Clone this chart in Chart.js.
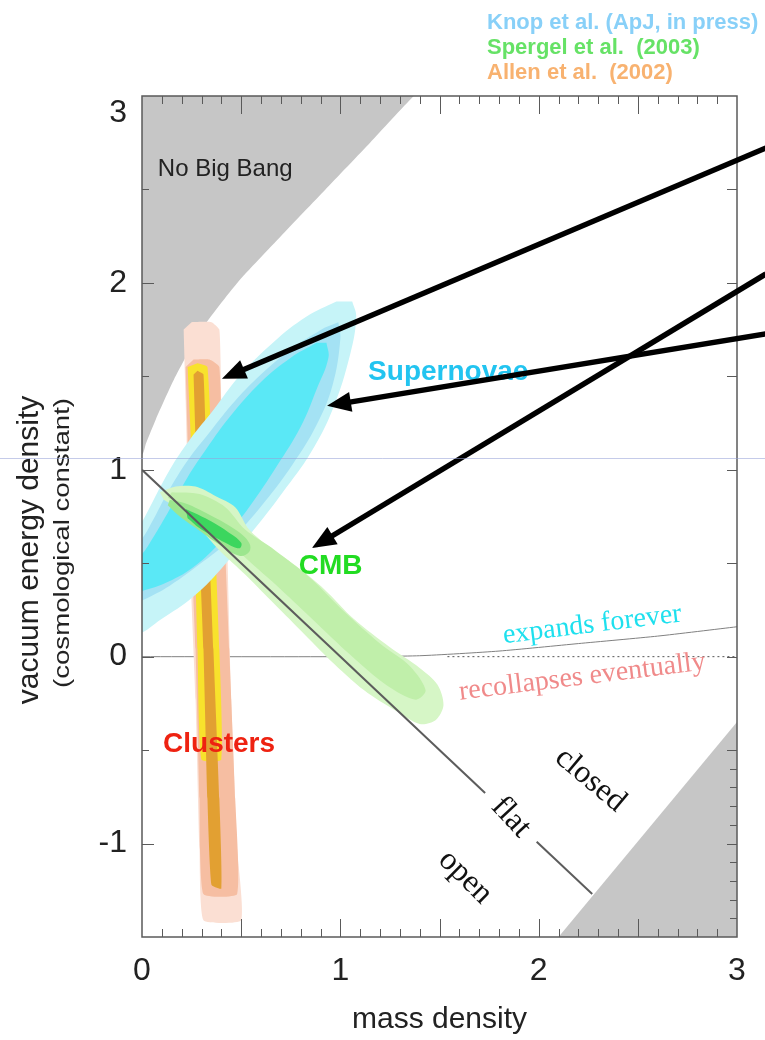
<!DOCTYPE html>
<html>
<head>
<meta charset="utf-8">
<script src="https://cdn.jsdelivr.net/npm/chart.js@4.4.1/dist/chart.umd.min.js"></script>
<style>
  html, body { margin: 0; padding: 0; background: #ffffff; }
  canvas { display: block; }
</style>
</head>
<body>
<canvas id="cosmo" width="765" height="1040"></canvas>
<script>
// ---- axes ----
const xRange = [0, 3];
const yRange = [-1.5, 3];
const xTickValues = [0, 1, 2, 3];
const yTickValues = [-1, 0, 1, 2, 3];

// ---- excluded regions (mass density, vacuum energy density) ----
const noBigBang = [[-0.2, 3.2], [1.57, 3.2], [1.37, 3], [1.15, 2.75], [0.925, 2.5], [0.70, 2.25], [0.48, 2.0],
  [0.30, 1.75], [0.16, 1.48], [0.07, 1.27], [0.02, 1.14], [0, 1.08], [-0.2, 1.0]];
const lowerRight = [[2.1, -1.5], [3.2, -1.6], [3.2, -0.2], [3, -0.35]];

// ---- geometry lines ----
const flatLower = [[0, 1], [1.73, -0.73]];
const flatUpper = [[1.99, -0.99], [2.27, -1.27]];
const expansionEdge = [[0, 0], [1, 0], [1.4, 0.005], [1.8, 0.03], [2.2, 0.07], [2.6, 0.11], [3, 0.16]];
const zeroReference = [[1.54, 0], [3, 0]];

// ---- Allen et al. (2002): X-ray clusters ----
const clustersOuter = [[0.21, 1.75], [0.22, 1.37], [0.24, 0.57], [0.27, -0.23], [0.29, -1.03], [0.31, -1.41],
  [0.5, -1.41], [0.48, -1.03], [0.45, -0.23], [0.43, 0.57], [0.40, 1.37], [0.39, 1.75], [0.35, 1.79], [0.25, 1.79]];
const clustersMid = [[0.22, 1.55], [0.24, 0.84], [0.27, 0.04], [0.29, -0.76], [0.31, -1.27],
  [0.48, -1.27], [0.47, -0.76], [0.44, 0.04], [0.41, 0.84], [0.39, 1.55], [0.34, 1.59], [0.26, 1.59]];
const clustersYellow = [[0.23, 1.55], [0.26, 0.84], [0.28, 0.04], [0.30, -0.55],
  [0.40, -0.55], [0.39, 0.04], [0.36, 0.84], [0.33, 1.55], [0.28, 1.57]];
const clustersCore = [[0.26, 1.51], [0.28, 0.84], [0.31, 0.04], [0.33, -0.76], [0.35, -1.22],
  [0.40, -1.24], [0.39, -0.76], [0.36, 0.04], [0.33, 0.84], [0.31, 1.51], [0.28, 1.53]];

// ---- Knop et al.: supernovae ----
const snOuter = [[1.06, 1.90], [1.08, 1.82], [1.05, 1.62], [0.96, 1.32], [0.85, 1.09], [0.71, 0.88], [0.58, 0.70],
  [0.44, 0.52], [0.28, 0.34], [0.11, 0.21], [-0.05, 0.12], [-0.15, 0.25], [-0.12, 0.5], [0, 0.72], [0.14, 1.0],
  [0.24, 1.16], [0.36, 1.32], [0.49, 1.50], [0.66, 1.68], [0.83, 1.82], [0.98, 1.90]];
const snMid = [[0.99, 1.79], [1.00, 1.70], [0.96, 1.45], [0.88, 1.24], [0.76, 1.03], [0.62, 0.83], [0.47, 0.65],
  [0.31, 0.51], [0.14, 0.38], [0, 0.30], [-0.12, 0.24], [-0.14, 0.45], [0, 0.63], [0.05, 0.72], [0.13, 0.88],
  [0.23, 1.05], [0.34, 1.20], [0.47, 1.37], [0.62, 1.53], [0.77, 1.66], [0.92, 1.76]];
const snInner = [[0.93, 1.68], [0.94, 1.60], [0.88, 1.43], [0.80, 1.23], [0.68, 1.02], [0.54, 0.80], [0.41, 0.63],
  [0.26, 0.48], [0.11, 0.39], [0, 0.35], [-0.1, 0.3], [-0.1, 0.45], [0, 0.55], [0.04, 0.61], [0.13, 0.77],
  [0.23, 0.96], [0.33, 1.12], [0.44, 1.28], [0.60, 1.47], [0.75, 1.60], [0.88, 1.68]];

// ---- Spergel et al. (2003): CMB ----
const cmbOuter = [[0.09, 0.88], [0.17, 0.91], [0.27, 0.91], [0.37, 0.86], [0.47, 0.80], [0.54, 0.68], [0.65, 0.58],
  [0.77, 0.49], [0.92, 0.36], [1.07, 0.20], [1.25, 0.05], [1.40, -0.06], [1.49, -0.15], [1.52, -0.26], [1.48, -0.34],
  [1.40, -0.36], [1.28, -0.29], [1.12, -0.18], [0.95, -0.02], [0.80, 0.14], [0.65, 0.30], [0.52, 0.44], [0.39, 0.57],
  [0.27, 0.71], [0.17, 0.80], [0.11, 0.84]];
const cmbMid = [[0.15, 0.88], [0.29, 0.87], [0.42, 0.80], [0.52, 0.68], [0.67, 0.57], [0.85, 0.42], [1.02, 0.24],
  [1.20, 0.07], [1.35, -0.05], [1.43, -0.18], [1.38, -0.23], [1.23, -0.15], [1.05, 0.01], [0.87, 0.19], [0.70, 0.36],
  [0.52, 0.53], [0.37, 0.68], [0.22, 0.80], [0.13, 0.85]];
const cmbInner = [[0.14, 0.84], [0.22, 0.82], [0.34, 0.76], [0.47, 0.68], [0.54, 0.61], [0.54, 0.56], [0.49, 0.54],
  [0.39, 0.60], [0.27, 0.69], [0.18, 0.76], [0.13, 0.81]];
const cmbCore = [[0.22, 0.79], [0.32, 0.74], [0.43, 0.67], [0.50, 0.61], [0.49, 0.58], [0.42, 0.61], [0.30, 0.68], [0.23, 0.74]];

// ---- pointer arrows: [from x, from y, to x, to y] ----
const arrowSegments = [
  [3.146, 2.722, 0.403, 1.487],
  [3.146, 1.727, 0.933, 1.342],
  [3.146, 2.048, 0.857, 0.581]
];

const SANS = '"Liberation Sans", Arial, Helvetica, sans-serif';
const SERIF = '"Liberation Serif", "Times New Roman", Times, serif';

const toPoints = list => list.map(([x, y]) => ({ x, y }));

// layers listed bottom to top
const layers = [
  { pts: noBigBang, fill: '#c6c6c6', tension: 0.2 },
  { pts: lowerRight, fill: '#c6c6c6', tension: 0 },
  { pts: expansionEdge, stroke: '#808080', width: 1, tension: 0.2 },
  { pts: zeroReference, stroke: '#555555', width: 1, dash: [2, 3] },
  { pts: clustersOuter, fill: '#fbdfd3', tension: 0.15 },
  { pts: clustersMid, fill: '#f6bea2', tension: 0.15 },
  { pts: clustersYellow, fill: '#f8e22c', tension: 0.15 },
  { pts: clustersCore, fill: '#e2a032', tension: 0.15 },
  { pts: snOuter, fill: '#c6f4f8', tension: 0.4 },
  { pts: snMid, fill: '#a4e2f4', tension: 0.4 },
  { pts: snInner, fill: '#5ae8f6', tension: 0.4 },
  { pts: cmbOuter, fill: '#d6f6c6', tension: 0.3 },
  { pts: cmbMid, fill: '#c0efaa', tension: 0.3 },
  { pts: cmbInner, fill: '#9ce68e', tension: 0.4 },
  { pts: cmbCore, fill: '#3cd65e', tension: 0.4 },
  { pts: flatLower, stroke: '#5c5c5c', width: 2 },
  { pts: flatUpper, stroke: '#5c5c5c', width: 2 }
];

const datasets = layers.map((l, i) => ({
  data: toPoints(l.pts),
  showLine: true,
  pointRadius: 0,
  pointHoverRadius: 0,
  tension: l.tension || 0,
  borderColor: l.stroke || 'rgba(0,0,0,0)',
  borderWidth: l.stroke ? l.width : 0,
  borderDash: l.dash || [],
  backgroundColor: l.fill || 'rgba(0,0,0,0)',
  fill: l.fill ? 'shape' : false,
  order: layers.length - i
}));

function drawText(ctx, text, px, py, font, color, angle, align, baseline) {
  ctx.save();
  ctx.translate(px, py);
  ctx.rotate((angle || 0) * Math.PI / 180);
  ctx.font = font;
  ctx.fillStyle = color;
  ctx.textAlign = align || 'center';
  ctx.textBaseline = baseline || 'middle';
  ctx.fillText(text, 0, 0);
  ctx.restore();
}

function drawArrow(ctx, x0, y0, x1, y1) {
  const ang = Math.atan2(y1 - y0, x1 - x0);
  const headLen = 24, headHalf = 10;
  const bx = x1 - headLen * Math.cos(ang), by = y1 - headLen * Math.sin(ang);
  ctx.beginPath();
  ctx.moveTo(x0, y0);
  ctx.lineTo(bx + 4 * Math.cos(ang), by + 4 * Math.sin(ang));
  ctx.stroke();
  ctx.beginPath();
  ctx.moveTo(x1, y1);
  ctx.lineTo(bx + headHalf * Math.sin(ang), by - headHalf * Math.cos(ang));
  ctx.lineTo(bx - headHalf * Math.sin(ang), by + headHalf * Math.cos(ang));
  ctx.closePath();
  ctx.fill();
}

const decor = {
  id: 'decor',
  afterDatasetsDraw(chart) {
    const { ctx, chartArea: a, scales: { x, y } } = chart;
    const X = v => x.getPixelForValue(v), Y = v => y.getPixelForValue(v);
    ctx.save();
    // frame
    ctx.strokeStyle = '#5a5a5a';
    ctx.lineWidth = 1.5;
    ctx.strokeRect(a.left, a.top, a.right - a.left, a.bottom - a.top);
    // inward ticks
    ctx.lineWidth = 1;
    ctx.beginPath();
    for (let i = 1; i < 30; i++) {
      const px = Math.round(X(i / 10)) + 0.5;
      const len = i % 5 === 0 ? 18 : 8;
      ctx.moveTo(px, a.top); ctx.lineTo(px, a.top + len);
      ctx.moveTo(px, a.bottom); ctx.lineTo(px, a.bottom - len);
    }
    for (let i = -2; i <= 5; i++) {
      const v = i / 2;
      const py = Math.round(Y(v)) + 0.5;
      const len = Number.isInteger(v) ? 12 : 7;
      ctx.moveTo(a.left, py); ctx.lineTo(a.left + len, py);
      ctx.moveTo(a.right, py); ctx.lineTo(a.right - 10, py);
    }
    for (let i = -14; i <= -5; i++) {
      const py = Math.round(Y(i / 10)) + 0.5;
      ctx.moveTo(a.right, py); ctx.lineTo(a.right - 7, py);
    }
    ctx.stroke();

    // labels inside the plot
    drawText(ctx, 'No Big Bang', X(0.08), Y(2.57), '24px ' + SANS, '#222222', 0, 'left', 'alphabetic');
    drawText(ctx, 'Supernovae', X(1.14), Y(1.48), 'bold 28px ' + SANS, '#22c4f0', 0, 'left', 'alphabetic');
    drawText(ctx, 'CMB', X(0.79), Y(0.44), 'bold 28px ' + SANS, '#22dc22', 0, 'left', 'alphabetic');
    drawText(ctx, 'Clusters', X(0.106), Y(-0.51), 'bold 28px ' + SANS, '#ee2211', 0, 'left', 'alphabetic');
    drawText(ctx, 'expands forever', X(2.27), Y(0.17), '28px ' + SERIF, '#1ee0ee', -7);
    drawText(ctx, 'recollapses eventually', X(2.22), Y(-0.11), '28px ' + SERIF, '#f08a8a', -7);
    drawText(ctx, 'closed', X(2.26), Y(-0.66), '32px ' + SERIF, '#111111', 40);
    drawText(ctx, 'flat', X(1.86), Y(-0.86), '32px ' + SERIF, '#111111', 47);
    drawText(ctx, 'open', X(1.63), Y(-1.18), '32px ' + SERIF, '#111111', 45);
    ctx.restore();
  },
  afterDraw(chart) {
    const { ctx, scales: { x, y } } = chart;
    const X = v => x.getPixelForValue(v), Y = v => y.getPixelForValue(v);
    ctx.save();
    // arrows
    ctx.strokeStyle = '#000000';
    ctx.fillStyle = '#000000';
    ctx.lineWidth = 5.5;
    ctx.lineCap = 'butt';
    arrowSegments.forEach(([x0, y0, x1, y1]) => drawArrow(ctx, X(x0), Y(y0), X(x1), Y(y1)));

    // source list
    drawText(ctx, 'Knop et al. (ApJ, in press)', 487, 29, 'bold 22px ' + SANS, '#88d0f8', 0, 'left', 'alphabetic');
    drawText(ctx, 'Spergel et al.  (2003)', 487, 54, 'bold 22px ' + SANS, '#66e266', 0, 'left', 'alphabetic');
    drawText(ctx, 'Allen et al.  (2002)', 487, 79, 'bold 22px ' + SANS, '#f8b270', 0, 'left', 'alphabetic');

    // vertical axis title
    drawText(ctx, 'vacuum energy density', 30, 550, '30px ' + SANS, '#222222', -90);
    ctx.save();
    ctx.translate(63, 543);
    ctx.rotate(-Math.PI / 2);
    ctx.font = '22px ' + SANS;
    const w = ctx.measureText('(cosmological constant)').width;
    ctx.scale(290 / w, 1);
    ctx.fillStyle = '#222222';
    ctx.textAlign = 'center';
    ctx.textBaseline = 'middle';
    ctx.fillText('(cosmological constant)', 0, 0);
    ctx.restore();

    // faint scan line across the sheet
    ctx.strokeStyle = 'rgba(150,160,215,0.55)';
    ctx.lineWidth = 1;
    ctx.beginPath();
    ctx.moveTo(0, 458.5); ctx.lineTo(765, 458.5);
    ctx.stroke();
    ctx.restore();
  }
};

new Chart(document.getElementById('cosmo'), {
  type: 'scatter',
  data: { datasets },
  options: {
    responsive: false,
    animation: false,
    events: [],
    layout: { padding: { top: 96, right: 28, left: 0, bottom: 0 } },
    plugins: { legend: { display: false }, tooltip: { enabled: false } },
    scales: {
      x: {
        type: 'linear', position: 'bottom', min: xRange[0], max: xRange[1],
        afterFit: s => { s.height = 103; },
        afterBuildTicks: s => { s.ticks = xTickValues.map(v => ({ value: v })); },
        grid: { display: false, drawTicks: false },
        border: { display: false },
        ticks: { font: { size: 32, family: SANS, lineHeight: 1.05 }, color: '#222222', padding: 17, maxRotation: 0 },
        title: { display: true, text: 'mass density', color: '#222222', font: { size: 30, family: SANS, lineHeight: 1.2 }, padding: { top: 0, bottom: 2 } }
      },
      y: {
        type: 'linear', position: 'left', min: yRange[0], max: yRange[1],
        afterFit: s => { s.width = 142; },
        afterBuildTicks: s => { s.ticks = yTickValues.map(v => ({ value: v })); },
        grid: { display: false, drawTicks: false },
        border: { display: false },
        ticks: {
          font: { size: 32, family: SANS, lineHeight: 1.05 }, color: '#222222', padding: 15,
          callback: v => (v === yRange[1] ? ['', String(v)] : String(v))
        }
      }
    }
  },
  plugins: [decor]
});
</script>
</body>
</html>
